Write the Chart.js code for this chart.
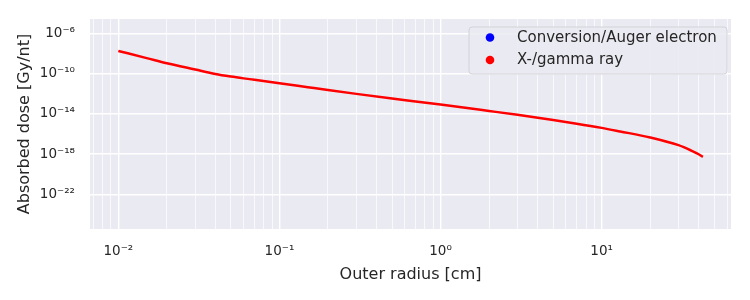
<!DOCTYPE html>
<html>
<head>
<meta charset="utf-8">
<script src="https://cdn.jsdelivr.net/npm/chart.js@4"></script>
<style>
  body { margin: 0; background: #ffffff; }
  canvas { display: block; }
</style>
</head>
<body>
<canvas id="myChart" width="750" height="300"></canvas>
<script>
// data
var radius = [0.01, 0.015, 0.02, 0.03, 0.04, 0.05, 0.06, 0.07, 0.1, 0.15, 0.2, 0.3, 0.5, 0.7,
              1, 2, 3, 5, 7, 10, 13, 20, 30, 36, 40, 42.5];
var gammaDose = [1.74e-8, 3.4e-9, 1.05e-9, 2.5e-10, 9.1e-11, 5.0e-11, 3.3e-11, 2.4e-11, 1.1e-11,
                 4.4e-12, 2.3e-12, 9.5e-13, 3.3e-13, 1.7e-13, 8.3e-14, 1.9e-14, 7.9e-15,
                 2.4e-15, 1.05e-15, 4.0e-16, 1.78e-16, 4.5e-17, 7.6e-18, 2.2e-18, 9.5e-19, 5.2e-19];
var electronDose = [];   // nothing visible in the plot range

var xMajorExp = [-2, -1, 0, 1];
var xMinorTicks = [0.007, 0.008, 0.009,
                   0.02, 0.03, 0.04, 0.05, 0.06, 0.07, 0.08, 0.09,
                   0.2, 0.3, 0.4, 0.5, 0.6, 0.7, 0.8, 0.9,
                   2, 3, 4, 5, 6, 7, 8, 9,
                   20, 30, 40, 50, 60];
var yMajorExp = [-22, -18, -14, -10, -6];

var xMin = 0.00667, xMax = 63.5;
var yMin = 3.6e-26, yMax = 2.6e-5;

var textColor = '#262626';
var fontName = '"DejaVu Sans", sans-serif';

function sup(n) {
  var map = {'-': '\u207b', '0': '\u2070', '1': '\u00b9', '2': '\u00b2', '3': '\u00b3',
             '4': '\u2074', '5': '\u2075', '6': '\u2076', '7': '\u2077', '8': '\u2078', '9': '\u2079'};
  return String(n).split('').map(function(c){ return map[c]; }).join('');
}

var xMajor = xMajorExp.map(function(e){ return Math.pow(10, e); });
var yMajor = yMajorExp.map(function(e){ return Math.pow(10, e); });

function isMajorVal(list, v) {
  for (var i = 0; i < list.length; i++) {
    if (Math.abs(Math.log10(list[i]) - Math.log10(v)) < 1e-6) return i;
  }
  return -1;
}

var gammaPts = radius.map(function(r, i){ return {x: r, y: gammaDose[i]}; });
var electronPts = electronDose.map(function(d, i){ return {x: radius[i], y: d}; });

// grey plot background (seaborn darkgrid)
var bgPlugin = {
  id: 'bg',
  beforeDraw: function(chart) {
    var c = chart.ctx, a = chart.chartArea;
    c.save();
    c.fillStyle = '#ffffff';
    c.fillRect(0, 0, chart.width, chart.height);
    c.fillStyle = '#eaeaf2';
    c.fillRect(a.left, a.top, a.right - a.left, a.bottom - a.top);
    c.restore();
  }
};

// legend drawn inside the plot, upper right
var legendPlugin = {
  id: 'boxLegend',
  afterDraw: function(chart) {
    var c = chart.ctx;
    var x = 469, y = 27, w = 258, h = 47, r = 3;
    c.save();
    c.beginPath();
    c.moveTo(x + r, y);
    c.arcTo(x + w, y, x + w, y + h, r);
    c.arcTo(x + w, y + h, x, y + h, r);
    c.arcTo(x, y + h, x, y, r);
    c.arcTo(x, y, x + w, y, r);
    c.closePath();
    c.fillStyle = 'rgba(234,234,242,0.85)';
    c.fill();
    c.strokeStyle = '#d2d2d8';
    c.lineWidth = 1;
    c.stroke();
    c.font = '15px ' + fontName;
    c.textBaseline = 'middle';
    chart.data.datasets.forEach(function(ds, i) {
      var yy = 37.5 + i * 22.5;
      c.beginPath();
      c.arc(490, yy, 4.3, 0, Math.PI * 2);
      c.fillStyle = ds.borderColor;
      c.fill();
      c.fillStyle = textColor;
      c.fillText(ds.label, 517, yy + 0.5);
    });
    c.restore();
  }
};

var chart1 = new Chart(document.getElementById('myChart'), {
  type: 'line',
  data: {
    datasets: [{
      label: 'Conversion/Auger electron',
      data: electronPts,
      borderColor: 'rgb(0,0,255)',
      backgroundColor: 'rgb(0,0,255)',
      borderWidth: 2.5,
      pointRadius: 0
    }, {
      label: 'X-/gamma ray',
      data: gammaPts,
      borderColor: 'rgb(255,0,0)',
      backgroundColor: 'rgb(255,0,0)',
      borderWidth: 2.5,
      pointRadius: 0,
      cubicInterpolationMode: 'monotone'
    }]
  },
  options: {
    responsive: false,
    devicePixelRatio: 1,
    animation: false,
    layout: { padding: { top: 19, right: 19, left: 0, bottom: 0 } },
    plugins: {
      legend: { display: false },
      tooltip: { enabled: false }
    },
    scales: {
      x: {
        type: 'logarithmic',
        min: xMin,
        max: xMax,
        afterBuildTicks: function(scale) {
          var all = xMinorTicks.concat(xMajor).sort(function(a, b){ return a - b; });
          scale.ticks = all.map(function(v){ return {value: v, major: isMajorVal(xMajor, v) >= 0}; });
        },
        afterFit: function(scale) {
          scale.height = 71;
          scale.paddingLeft = 0;
          scale.paddingRight = 0;
        },
        border: { display: false },
        grid: {
          color: '#ffffff',
          drawTicks: false,
          lineWidth: function(ctx) { return ctx.tick && ctx.tick.major ? 1.4 : 0.7; }
        },
        ticks: {
          autoSkip: false,
          maxRotation: 0,
          padding: 14,
          color: textColor,
          font: { family: fontName, size: 13.5 },
          callback: function(v) {
            var i = isMajorVal(xMajor, v);
            return i >= 0 ? '10' + sup(xMajorExp[i]) : '';
          }
        },
        title: {
          display: true,
          text: 'Outer radius [cm]',
          color: textColor,
          font: { family: fontName, size: 16 },
          padding: { top: 0, bottom: 16 }
        }
      },
      y: {
        type: 'logarithmic',
        min: yMin,
        max: yMax,
        afterBuildTicks: function(scale) {
          scale.ticks = yMajor.map(function(v){ return {value: v, major: true}; });
        },
        afterFit: function(scale) {
          scale.width = 90;
          scale.paddingTop = 0;
          scale.paddingBottom = 0;
        },
        border: { display: false },
        grid: {
          color: '#ffffff',
          drawTicks: false,
          lineWidth: 1.4
        },
        ticks: {
          autoSkip: false,
          padding: 15,
          color: textColor,
          font: { family: fontName, size: 13.5 },
          callback: function(v) {
            var i = isMajorVal(yMajor, v);
            return i >= 0 ? '10' + sup(yMajorExp[i]) : '';
          }
        },
        title: {
          display: true,
          text: 'Absorbed dose [Gy/nt]',
          color: textColor,
          font: { family: fontName, size: 16 },
          padding: { top: 15, bottom: 0 }
        }
      }
    }
  },
  plugins: [bgPlugin, legendPlugin]
});
</script>
</body>
</html>
